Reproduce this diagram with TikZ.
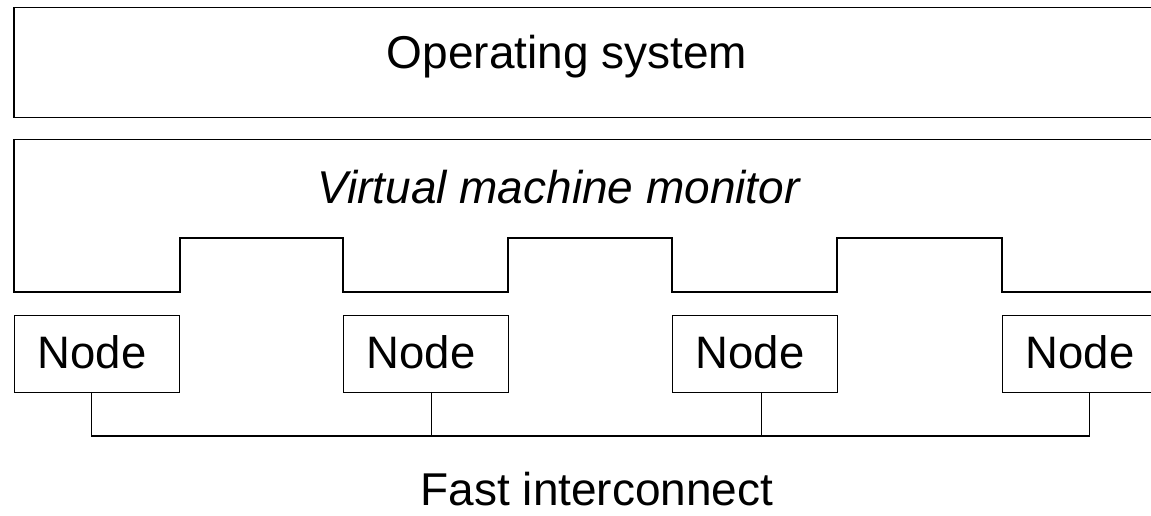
\documentclass[tikz,border=0pt]{standalone}
\usepackage{fontspec}
\setmainfont{Liberation Sans}
\usetikzlibrary{calc}
\begin{document}
\begin{tikzpicture}[x=1pt,y=-1pt,
  lay/.style={draw=black,line width=1.4pt},
  nodebox/.style={draw=black,line width=1.4pt,minimum width=165pt,minimum height=77pt,inner sep=0pt,
    text height=29pt,text depth=0pt,anchor=north west,font=\fontsize{45.5}{50}\selectfont},
  lbl/.style={font=\fontsize{46}{50}\selectfont,anchor=base,inner sep=0pt},
  wire/.style={draw=black,line width=1.4pt}]
\useasboundingbox (0,0) rectangle (1151,515);
\clip (0,0) rectangle (1151,515);
% operating system layer
\draw[lay] (1170,7.5) -- (14,7.5) -- (14,117.5) -- (1170,117.5);
\node[lbl] (os) at (567,68) {Operating system};
% virtual machine monitor layer
\draw[lay] (1170,139.5) -- (14,139.5) -- (14,292) -- (180,292) -- (180,238) -- (343,238) -- (343,292)
  -- (508,292) -- (508,238) -- (672,238) -- (672,292) -- (837,292) -- (837,238) -- (1002,238)
  -- (1002,292) -- (1170,292);
\node[lbl,font=\fontsize{46}{50}\selectfont\itshape] (vmm) at (558.5,203) {Virtual machine monitor};
% nodes
\node[nodebox] (n1) at (14,315) {\kern-10pt Node};
\node[nodebox] (n2) at (343,315) {\kern-10pt Node};
\node[nodebox] (n3) at (672,315) {\kern-10pt Node};
\node[nodebox] (n4) at (1002,315) {\kern-10pt Node};
% interconnect
\coordinate (bus) at (0,436);
\coordinate (b1) at ($(n1.south)+(-5.5,0)$);
\coordinate (b2) at ($(n2.south)+(5.5,0)$);
\coordinate (b3) at ($(n3.south)+(6.5,0)$);
\coordinate (b4) at ($(n4.south)+(4.5,0)$);
\draw[wire] (b1) -- (b1 |- bus) -- (b4 |- bus) -- (b4);
\draw[wire] (b2) -- (b2 |- bus);
\draw[wire] (b3) -- (b3 |- bus);
\node[lbl] (fi) at (597,505) {Fast interconnect};
\end{tikzpicture}
\end{document}
